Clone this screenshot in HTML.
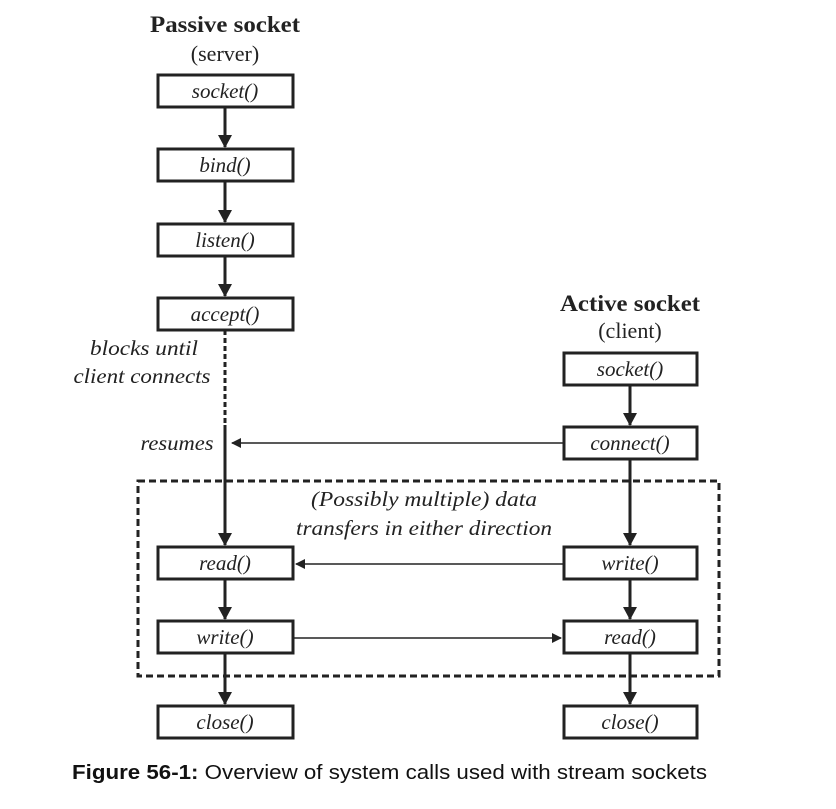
<!DOCTYPE html>
<html><head><style>
body{margin:0;background:#fff;width:836px;height:804px;overflow:hidden}
</style></head><body>
<svg width="836" height="804" viewBox="0 0 836 804" xmlns="http://www.w3.org/2000/svg">
<defs>
<marker id="a" markerWidth="10" markerHeight="10" refX="9" refY="5" orient="auto" markerUnits="userSpaceOnUse"><path d="M0,0 L10,5 L0,10 z" fill="#222"/></marker>
<marker id="b" markerWidth="14" markerHeight="14" refX="12" refY="7" orient="auto" markerUnits="userSpaceOnUse"><path d="M0,0 L13,7 L0,14 z" fill="#222"/></marker>
</defs>
<g font-family="Liberation Serif, serif" fill="#222">
<text x="225" y="32" text-anchor="middle" font-weight="bold" font-size="23" textLength="150" lengthAdjust="spacingAndGlyphs">Passive socket</text>
<text x="225" y="61" text-anchor="middle" font-size="22">(server)</text>
<text x="630" y="311" text-anchor="middle" font-weight="bold" font-size="23" textLength="140" lengthAdjust="spacingAndGlyphs">Active socket</text>
<text x="630" y="338" text-anchor="middle" font-size="22">(client)</text>
</g>
<g stroke="#222" stroke-width="3" fill="#fff">
<rect x="158" y="75" width="135" height="32"/>
<rect x="158" y="149" width="135" height="32"/>
<rect x="158" y="224" width="135" height="32"/>
<rect x="158" y="298" width="135" height="32"/>
<rect x="158" y="547" width="135" height="32"/>
<rect x="158" y="621" width="135" height="32"/>
<rect x="158" y="706" width="135" height="32"/>
<rect x="564" y="353" width="133" height="32"/>
<rect x="564" y="427" width="133" height="32"/>
<rect x="564" y="547" width="133" height="32"/>
<rect x="564" y="621" width="133" height="32"/>
<rect x="564" y="706" width="133" height="32"/>
</g>
<rect x="138" y="481" width="581" height="195" fill="none" stroke="#222" stroke-width="3" stroke-dasharray="7,4"/>
<g stroke="#222" stroke-width="3" fill="none">
<line x1="225" y1="107" x2="225" y2="147" marker-end="url(#b)"/>
<line x1="225" y1="181" x2="225" y2="222" marker-end="url(#b)"/>
<line x1="225" y1="256" x2="225" y2="296" marker-end="url(#b)"/>
<line x1="225" y1="330" x2="225" y2="425" stroke-dasharray="5,3"/>
<line x1="225" y1="425" x2="225" y2="545" marker-end="url(#b)"/>
<line x1="225" y1="579" x2="225" y2="619" marker-end="url(#b)"/>
<line x1="225" y1="653" x2="225" y2="704" marker-end="url(#b)"/>
<line x1="630" y1="385" x2="630" y2="425" marker-end="url(#b)"/>
<line x1="630" y1="459" x2="630" y2="545" marker-end="url(#b)"/>
<line x1="630" y1="579" x2="630" y2="619" marker-end="url(#b)"/>
<line x1="630" y1="653" x2="630" y2="704" marker-end="url(#b)"/>
</g>
<g stroke="#222" stroke-width="1.5">
<line x1="564" y1="443" x2="232" y2="443" marker-end="url(#a)"/>
<line x1="564" y1="564" x2="296" y2="564" marker-end="url(#a)"/>
<line x1="293" y1="638" x2="561" y2="638" marker-end="url(#a)"/>
</g>
<g font-family="Liberation Serif, serif" font-style="italic" font-size="21" fill="#222" text-anchor="middle">
<text x="225" y="98">socket()</text>
<text x="225" y="172">bind()</text>
<text x="225" y="247">listen()</text>
<text x="225" y="321">accept()</text>
<text x="225" y="570">read()</text>
<text x="225" y="644">write()</text>
<text x="225" y="729">close()</text>
<text x="630" y="376">socket()</text>
<text x="630" y="450">connect()</text>
<text x="630" y="570">write()</text>
<text x="630" y="644">read()</text>
<text x="630" y="729">close()</text>
<text x="144" y="355" textLength="108" lengthAdjust="spacingAndGlyphs">blocks until</text>
<text x="142" y="383" textLength="137" lengthAdjust="spacingAndGlyphs">client connects</text>
<text x="177" y="450" textLength="73" lengthAdjust="spacingAndGlyphs">resumes</text>
<text x="424" y="506" textLength="226" lengthAdjust="spacingAndGlyphs">(Possibly multiple) data</text>
<text x="424" y="535" textLength="256" lengthAdjust="spacingAndGlyphs">transfers in either direction</text>
</g>
<text x="72" y="779" font-family="Liberation Sans, sans-serif" font-size="20" fill="#111" textLength="635" lengthAdjust="spacingAndGlyphs"><tspan font-weight="bold">Figure 56-1:</tspan> Overview of system calls used with stream sockets</text>
</svg>
</body></html>
